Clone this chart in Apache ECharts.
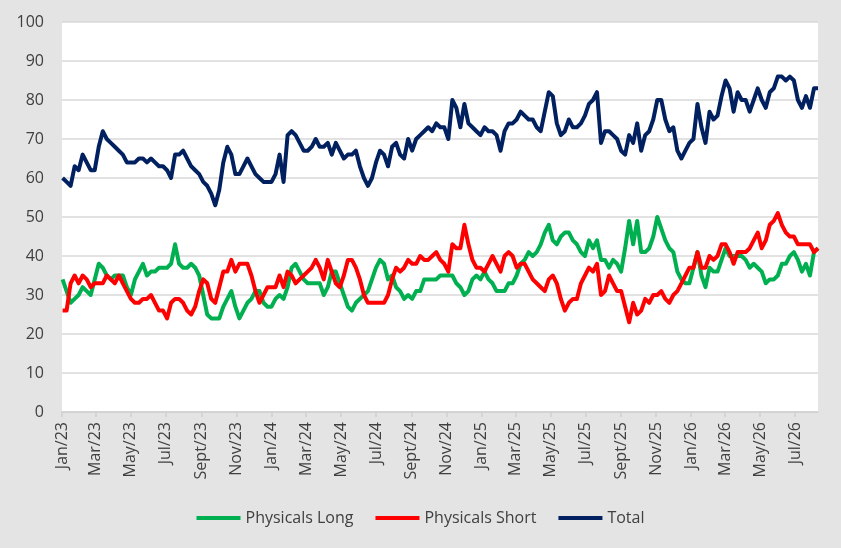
<!DOCTYPE html>
<html>
<head>
<meta charset="utf-8">
<script src="https://cdn.jsdelivr.net/npm/echarts@6/dist/echarts.min.js"></script>
<style>
  html, body { margin: 0; padding: 0; background: #e4e4e4; }
  #chart { width: 841px; height: 548px; }
</style>
</head>
<body>
<div id="chart"></div>
<script>
// weekly observations, first one on 2 Jan 2023
var firstWeek = [2023, 0, 2];

var physicalsLong = [
    34, 31, 28, 29, 30, 32, 31, 30, 34, 38, 37, 35, 34, 35, 35, 35, 32, 30, 34, 36,
    38, 35, 36, 36, 37, 37, 37, 38, 43, 38, 37, 37, 38, 37, 35, 30, 25, 24, 24, 24,
    27, 29, 31, 27, 24, 26, 28, 29, 31, 31, 28, 27, 27, 29, 30, 29, 32, 37, 38, 36,
    34, 33, 33, 33, 33, 30, 32, 36, 36, 33, 30, 27, 26, 28, 29, 30, 31, 34, 37, 39,
    38, 34, 35, 32, 31, 29, 30, 29, 31, 31, 34, 34, 34, 34, 35, 35, 35, 35, 33, 32,
    30, 31, 34, 35, 34, 36, 34, 33, 31, 31, 31, 33, 33, 35, 38, 39, 41, 40, 41, 43,
    46, 48, 44, 43, 45, 46, 46, 44, 43, 41, 40, 44, 42, 44, 39, 39, 37, 39, 38, 36,
    42, 49, 43, 49, 41, 41, 42, 45, 50, 47, 44, 42, 41, 36, 34, 33, 33, 37, 41, 35,
    32, 37, 36, 36, 39, 42, 40, 40, 40, 40, 39, 37, 38, 37, 36, 33, 34, 34, 35, 38,
    38, 40, 41, 39, 36, 38, 35, 41, 42
];

var physicalsShort = [
    26, 26, 33, 35, 33, 35, 34, 32, 33, 33, 33, 35, 34, 33, 35, 33, 31, 29, 28, 28,
    29, 29, 30, 28, 26, 26, 24, 28, 29, 29, 28, 26, 25, 27, 31, 34, 33, 29, 28, 32,
    36, 36, 39, 36, 38, 38, 38, 35, 31, 28, 30, 32, 32, 32, 35, 32, 36, 35, 33, 34,
    35, 36, 37, 39, 37, 34, 39, 36, 33, 32, 35, 39, 39, 37, 34, 30, 28, 28, 28, 28,
    28, 30, 34, 37, 36, 37, 39, 38, 38, 40, 39, 39, 40, 41, 39, 38, 36, 43, 42, 42,
    48, 43, 39, 37, 37, 36, 38, 40, 38, 36, 40, 41, 40, 37, 38, 38, 36, 34, 33, 32,
    31, 34, 35, 33, 29, 26, 28, 29, 29, 33, 35, 37, 36, 38, 30, 31, 35, 33, 31, 31,
    27, 23, 28, 25, 26, 29, 28, 30, 30, 31, 29, 28, 30, 31, 33, 35, 37, 37, 41, 37,
    37, 40, 39, 40, 43, 43, 41, 38, 41, 41, 41, 42, 44, 46, 42, 44, 48, 49, 51, 48,
    46, 45, 45, 43, 43, 43, 43, 41, 42
];

var total = [
    60, 59, 58, 63, 62, 66, 64, 62, 62, 68, 72, 70, 69, 68, 67, 66, 64, 64, 64, 65,
    65, 64, 65, 64, 63, 63, 62, 60, 66, 66, 67, 65, 63, 62, 61, 59, 58, 56, 53, 57,
    64, 68, 66, 61, 61, 63, 65, 63, 61, 60, 59, 59, 59, 61, 66, 59, 71, 72, 71, 69,
    67, 67, 68, 70, 68, 68, 69, 66, 69, 67, 65, 66, 66, 67, 63, 60, 58, 60, 64, 67,
    66, 63, 68, 69, 66, 65, 70, 67, 70, 71, 72, 73, 72, 74, 73, 73, 70, 80, 78, 73,
    79, 74, 73, 72, 71, 73, 72, 72, 71, 67, 72, 74, 74, 75, 77, 76, 75, 75, 73, 72,
    77, 82, 81, 74, 71, 72, 75, 73, 73, 74, 76, 79, 80, 82, 69, 72, 72, 71, 70, 67,
    66, 71, 69, 74, 67, 71, 72, 75, 80, 80, 75, 72, 73, 67, 65, 67, 69, 70, 79, 73,
    69, 77, 75, 76, 81, 85, 83, 77, 82, 80, 80, 77, 80, 83, 80, 78, 82, 83, 86, 86,
    85, 86, 85, 80, 78, 81, 78, 83, 83
];

var yTicks = [0, 10, 20, 30, 40, 50, 60, 70, 80, 90, 100];
var monthNames = ['Jan', 'Feb', 'Mar', 'Apr', 'May', 'Jun', 'Jul', 'Aug', 'Sept', 'Oct', 'Nov', 'Dec'];

// x is counted in days from 1 Jan 2023
var DAY = 86400000;
var origin = Date.UTC(2023, 0, 1);
function dayOf(y, m, d) {
    return Math.round((Date.UTC(y, m, d) - origin) / DAY);
}

// x axis labels every two months, Jan/23 .. Jul/26
var labelDays = [];
for (var y = 2023; y <= 2026; y++) {
    for (var m = 0; m < 12; m += 2) {
        if (y == 2026 && m > 6) break;
        labelDays.push(dayOf(y, m, 1));
    }
}

function pairs(values) {
    var out = [];
    for (var i = 0; i < values.length; i++) {
        out.push([dayOf(firstWeek[0], firstWeek[1], firstWeek[2] + 7 * i), values[i]]);
    }
    return out;
}

var lastDay = dayOf(firstWeek[0], firstWeek[1], firstWeek[2] + 7 * (total.length - 1));

var chart = echarts.init(document.getElementById('chart'));

var labelFont = '"Open Sans", "Liberation Sans", sans-serif';

var option = {
    backgroundColor: '#e4e4e4',
    animation: false,
    textStyle: { fontFamily: labelFont },
    grid: {
        left: 62,
        right: 23,
        top: 22,
        bottom: 136,
        show: true,
        backgroundColor: '#ffffff',
        borderWidth: 0
    },
    legend: {
        top: 505,
        left: 'center',
        icon: 'rect',
        itemWidth: 44,
        itemHeight: 4,
        itemGap: 22,
        textStyle: { color: '#404040', fontSize: 16, fontFamily: labelFont },
        data: ['Physicals Long', 'Physicals Short', 'Total']
    },
    xAxis: {
        type: 'value',
        min: 0,
        max: lastDay,
        splitLine: { show: false },
        axisLine: { lineStyle: { color: '#d0d0d0', width: 1.5 } },
        axisTick: {
            show: true,
            customValues: labelDays,
            length: 5,
            lineStyle: { color: '#d0d0d0', width: 1.5 }
        },
        axisLabel: {
            customValues: labelDays,
            rotate: 90,
            margin: 10,
            color: '#404040',
            fontSize: 16,
            fontFamily: labelFont,
            formatter: function (v) {
                var d = new Date(origin + v * DAY);
                return monthNames[d.getUTCMonth()] + '/' + String(d.getUTCFullYear()).slice(2);
            }
        }
    },
    yAxis: {
        type: 'value',
        min: yTicks[0],
        max: yTicks[yTicks.length - 1],
        interval: 10,
        axisLine: { show: false },
        axisTick: { show: false },
        splitLine: { lineStyle: { color: '#d9d9d9', width: 1.5 } },
        axisLabel: { color: '#404040', fontSize: 16, margin: 18, fontFamily: labelFont }
    },
    series: [
        {
            name: 'Physicals Long',
            type: 'line',
            data: pairs(physicalsLong),
            symbol: 'none',
            color: '#00b050',
            lineStyle: { width: 4, color: '#00b050', join: 'round' }
        },
        {
            name: 'Physicals Short',
            type: 'line',
            data: pairs(physicalsShort),
            symbol: 'none',
            color: '#ff0000',
            lineStyle: { width: 4, color: '#ff0000', join: 'round' }
        },
        {
            name: 'Total',
            type: 'line',
            data: pairs(total),
            symbol: 'none',
            color: '#002060',
            lineStyle: { width: 4, color: '#002060', join: 'round' }
        }
    ]
};

chart.setOption(option);
</script>
</body>
</html>
